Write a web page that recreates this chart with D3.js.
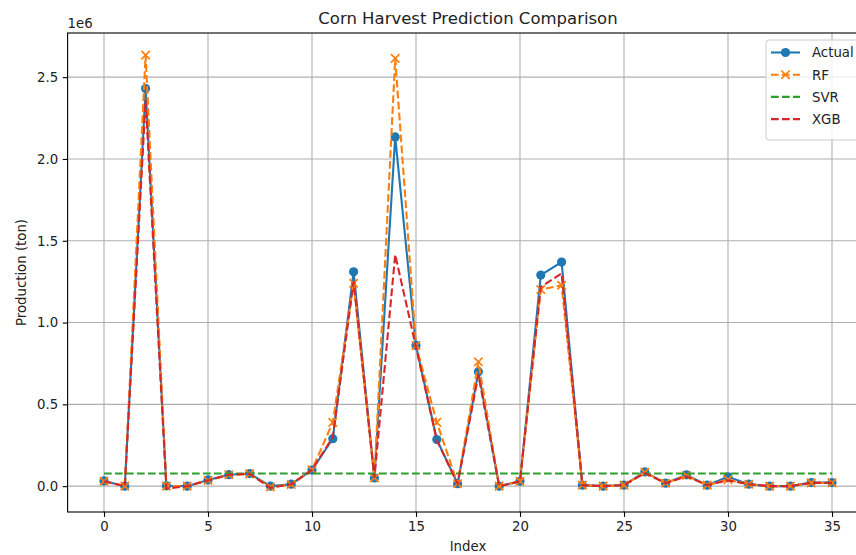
<!DOCTYPE html>
<html>
<head>
<meta charset="utf-8">
<script src="https://cdn.jsdelivr.net/npm/d3@7"></script>
<style>
  body { margin: 0; background: #fff; overflow: hidden; }
  svg { font-family: "DejaVu Sans", sans-serif; }
</style>
</head>
<body>
<div id="chart"></div>
<script>
// values (tons)
var idx = d3.range(36);
var actual = [32000, 0, 2430000, 2000, 0, 38000, 70000, 77000, 0, 12000, 98000, 290000, 1310000, 50000, 2135000, 860000, 285000, 15000, 700000, 0, 30000, 1290000, 1370000, 6000, 0, 6000, 87000, 18000, 69000, 6000, 57000, 12000, 0, 0, 22000, 22000];
var rf = [30000, 0, 2635000, 0, 0, 35000, 70000, 75000, -5000, 10000, 100000, 390000, 1240000, 50000, 2615000, 860000, 390000, 15000, 760000, 0, 30000, 1202000, 1228000, 6000, 0, 6000, 85000, 18000, 65000, 6000, 40000, 12000, 0, 0, 20000, 20000];
var svr = [77000, 77000, 77000, 77000, 77000, 77000, 77000, 77000, 77000, 77000, 77000, 77000, 77000, 77000, 77000, 77000, 77000, 77000, 77000, 77000, 77000, 77000, 77000, 77000, 77000, 77000, 77000, 77000, 77000, 77000, 77000, 77000, 77000, 77000, 77000, 77000];
var xgb = [30000, 0, 2360000, -15000, 0, 35000, 70000, 75000, -10000, 12000, 100000, 300000, 1250000, 50000, 1415000, 850000, 280000, 15000, 680000, 0, 30000, 1218000, 1300000, 6000, 0, 6000, 80000, 18000, 60000, 6000, 35000, 12000, 0, 0, 20000, 20000];
var xTicks = [0, 5, 10, 15, 20, 25, 30, 35];
var yTicks = [0, 500000, 1000000, 1500000, 2000000, 2500000];

var W = 856, H = 555;
var pLeft = 67.6, pRight = 868.4, pTop = 33, pBottom = 512;

var svg = d3.select("#chart").append("svg").attr("width", W).attr("height", H);

var x = d3.scaleLinear().domain([-1.75, 36.75]).range([pLeft, pRight]);
var y = d3.scaleLinear().domain([-158000, 2770000]).range([pBottom, pTop]);

// grid
svg.append("g").selectAll("line").data(xTicks).enter().append("line")
    .attr("x1", d => x(d)).attr("x2", d => x(d))
    .attr("y1", pTop).attr("y2", pBottom)
    .style("stroke", "#b0b0b0").style("stroke-width", 1.1);
svg.append("g").selectAll("line").data(yTicks).enter().append("line")
    .attr("x1", pLeft).attr("x2", pRight)
    .attr("y1", d => y(d)).attr("y2", d => y(d))
    .style("stroke", "#b0b0b0").style("stroke-width", 1.1);

// axes
var xAxis = svg.append("g").attr("transform", "translate(0," + pBottom + ")")
    .call(d3.axisBottom(x).tickValues(xTicks).tickSize(4.9).tickPadding(4.5).tickFormat(d3.format("d")));
var yAxis = svg.append("g").attr("transform", "translate(" + pLeft + ",0)")
    .call(d3.axisLeft(y).tickValues(yTicks).tickSize(4.9).tickPadding(4.5).tickFormat(d => (d / 1e6).toFixed(1)));
[xAxis, yAxis].forEach(function (a) {
    a.attr("font-family", null).attr("font-size", null);
    a.selectAll("text").style("font-size", "13.3px").style("fill", "#222");
    a.selectAll("line").style("stroke", "#000").style("stroke-width", 1.1);
    a.select(".domain").remove();
});

// spines
svg.append("rect").attr("x", pLeft).attr("y", pTop)
    .attr("width", pRight - pLeft).attr("height", pBottom - pTop)
    .style("fill", "none").style("stroke", "#000").style("stroke-width", 1.1);

var line = function (vals) {
    return d3.line().x((d, i) => x(idx[i])).y(d => y(d))(vals);
};

var g = svg.append("g");

// Actual
g.append("path").attr("d", line(actual))
    .style("fill", "none").style("stroke", "#1f77b4").style("stroke-width", 2.1);
g.append("g").selectAll("circle").data(actual).enter().append("circle")
    .attr("cx", (d, i) => x(idx[i])).attr("cy", d => y(d)).attr("r", 4.6)
    .style("fill", "#1f77b4");

// RF
g.append("path").attr("d", line(rf))
    .style("fill", "none").style("stroke", "#ff7f0e").style("stroke-width", 2.1)
    .style("stroke-dasharray", "7.7,3.3");
g.append("g").selectAll("path").data(rf).enter().append("path")
    .attr("d", (d, i) => {
        var cx = x(idx[i]), cy = y(d), s = 4.2;
        return "M" + (cx - s) + "," + (cy - s) + "L" + (cx + s) + "," + (cy + s) +
               "M" + (cx - s) + "," + (cy + s) + "L" + (cx + s) + "," + (cy - s);
    })
    .style("stroke", "#ff7f0e").style("stroke-width", 1.7);

// SVR
g.append("path").attr("d", line(svr))
    .style("fill", "none").style("stroke", "#2ca02c").style("stroke-width", 2.1)
    .style("stroke-dasharray", "7.7,3.3");

// XGB
g.append("path").attr("d", line(xgb))
    .style("fill", "none").style("stroke", "#d62728").style("stroke-width", 2.1)
    .style("stroke-dasharray", "7.7,3.3");

// title and labels
svg.append("text").attr("x", (pLeft + pRight) / 2).attr("y", 24)
    .attr("text-anchor", "middle").style("font-size", "16.5px").style("fill", "#222")
    .text("Corn Harvest Prediction Comparison");
svg.append("text").attr("x", (pLeft + pRight) / 2).attr("y", 551)
    .attr("text-anchor", "middle").style("font-size", "13.3px").style("fill", "#222")
    .text("Index");
svg.append("text").attr("transform", "translate(26," + ((pTop + pBottom) / 2) + ") rotate(-90)")
    .attr("text-anchor", "middle").style("font-size", "13.3px").style("fill", "#222")
    .text("Production (ton)");
svg.append("text").attr("x", pLeft).attr("y", 28)
    .style("font-size", "13.3px").style("fill", "#222")
    .text("1e6");

// legend
var names = ["Actual", "RF", "SVR", "XGB"];
var colors = ["#1f77b4", "#ff7f0e", "#2ca02c", "#d62728"];
var leg = svg.append("g").attr("transform", "translate(766,40)");
leg.append("rect").attr("x", 0).attr("y", 0).attr("width", 97).attr("height", 100).attr("rx", 3)
    .style("fill", "rgba(255,255,255,0.8)").style("stroke", "#cccccc").style("stroke-width", 1);
names.forEach(function (n, i) {
    var ly = 12.5 + i * 22.2;
    var ln = leg.append("line").attr("x1", 5).attr("x2", 34).attr("y1", ly).attr("y2", ly)
        .style("stroke", colors[i]).style("stroke-width", 2.1);
    if (i > 0) ln.style("stroke-dasharray", "7.7,3.3");
    if (i == 0) leg.append("circle").attr("cx", 19.5).attr("cy", ly).attr("r", 4.6).style("fill", colors[i]);
    if (i == 1) leg.append("path")
        .attr("d", "M15.3," + (ly - 4.2) + "L23.7," + (ly + 4.2) + "M15.3," + (ly + 4.2) + "L23.7," + (ly - 4.2))
        .style("stroke", colors[i]).style("stroke-width", 1.7);
    leg.append("text").attr("x", 46).attr("y", ly + 4.8)
        .style("font-size", "13.3px").style("fill", "#222").text(n);
});
</script>
</body>
</html>
